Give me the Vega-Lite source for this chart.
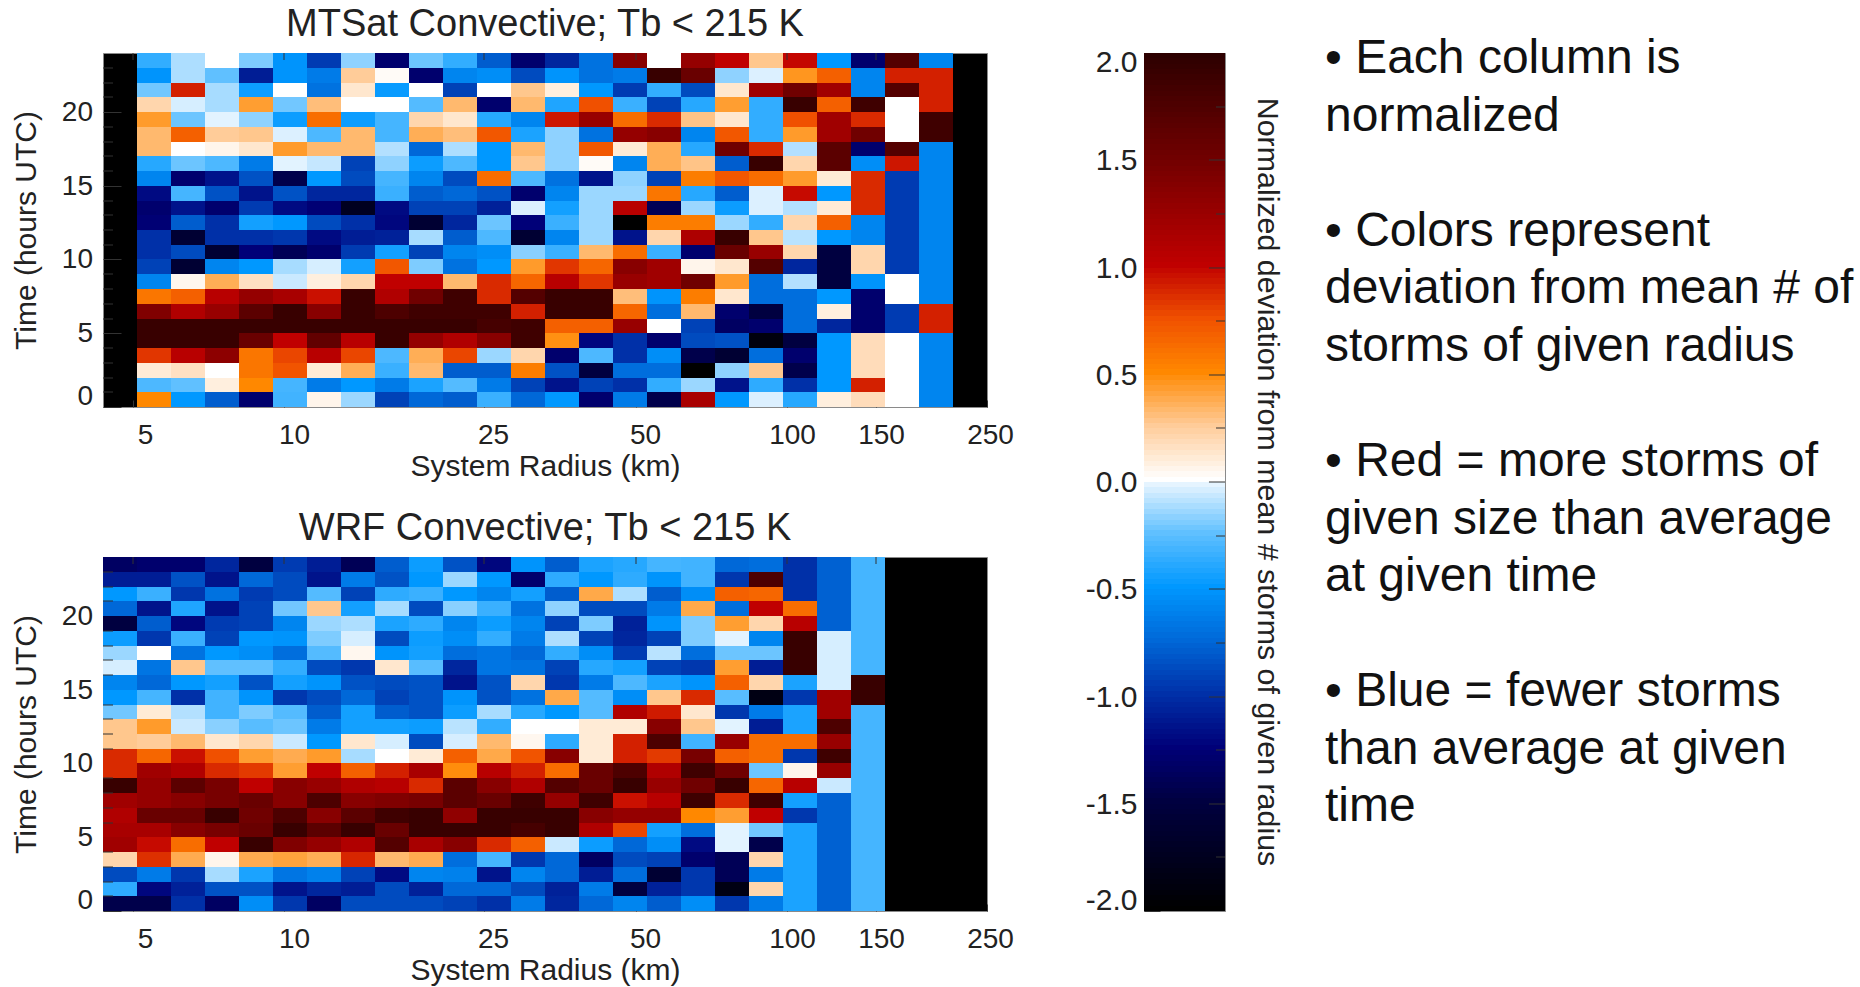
{"$schema":"https://vega.github.io/schema/vega-lite/v6.json","padding":{"left":11,"top":5,"right":0,"bottom":0},"background":"white","config":{"font":"Liberation Sans","view":{"fill":"black","stroke":"#8a8a8a","strokeWidth":1},"axis":{"labelFont":"Liberation Sans","titleFont":"Liberation Sans","labelColor":"#222","titleColor":"#222","titleFontWeight":"normal","domain":false,"grid":false,"tickColor":"#333","zindex":1,"labelOverlap":false},"title":{"font":"Liberation Sans","fontWeight":"normal","fontSize":38,"color":"#222","offset":8.5}},
"datasets":{
"edges":[{"c":0,"r0":4.355,"r1":5.089},{"c":1,"r0":5.089,"r1":5.947},{"c":2,"r0":5.947,"r1":6.949},{"c":3,"r0":6.949,"r1":8.121},{"c":4,"r0":8.121,"r1":9.49},{"c":5,"r0":9.49,"r1":11.089},{"c":6,"r0":11.089,"r1":12.958},{"c":7,"r0":12.958,"r1":15.142},{"c":8,"r0":15.142,"r1":17.695},{"c":9,"r0":17.695,"r1":20.678},{"c":10,"r0":20.678,"r1":24.163},{"c":11,"r0":24.163,"r1":28.236},{"c":12,"r0":28.236,"r1":32.995},{"c":13,"r0":32.995,"r1":38.557},{"c":14,"r0":38.557,"r1":45.056},{"c":15,"r0":45.056,"r1":52.651},{"c":16,"r0":52.651,"r1":61.526},{"c":17,"r0":61.526,"r1":71.897},{"c":18,"r0":71.897,"r1":84.016},{"c":19,"r0":84.016,"r1":98.178},{"c":20,"r0":98.178,"r1":114.73},{"c":21,"r0":114.73,"r1":134.07},{"c":22,"r0":134.07,"r1":156.66},{"c":23,"r0":156.66,"r1":183.07},{"c":24,"r0":183.07,"r1":213.93},{"c":25,"r0":213.93,"r1":250}],
"hours":[{"t":0,"t1":1},{"t":1,"t1":2},{"t":2,"t1":3},{"t":3,"t1":4},{"t":4,"t1":5},{"t":5,"t1":6},{"t":6,"t1":7},{"t":7,"t1":8},{"t":8,"t1":9},{"t":9,"t1":10},{"t":10,"t1":11},{"t":11,"t1":12},{"t":12,"t1":13},{"t":13,"t1":14},{"t":14,"t1":15},{"t":15,"t1":16},{"t":16,"t1":17},{"t":17,"t1":18},{"t":18,"t1":19},{"t":19,"t1":20},{"t":20,"t1":21},{"t":21,"t1":22},{"t":22,"t1":23},{"t":23,"t1":24}],
"xt":[{"r":5,"a":23.52,"b":24},{"r":10,"a":23.52,"b":24},{"r":25,"a":23.52,"b":24},{"r":50,"a":23.52,"b":24},{"r":100,"a":23.52,"b":24},{"r":150,"a":23.52,"b":24}],
"yt":[{"t":1,"a":4.355,"b":4.56},{"t":2,"a":4.355,"b":4.56},{"t":3,"a":4.355,"b":4.56},{"t":4,"a":4.355,"b":4.56},{"t":6,"a":4.355,"b":4.56},{"t":7,"a":4.355,"b":4.56},{"t":8,"a":4.355,"b":4.56},{"t":9,"a":4.355,"b":4.56},{"t":11,"a":4.355,"b":4.56},{"t":12,"a":4.355,"b":4.56},{"t":13,"a":4.355,"b":4.56},{"t":14,"a":4.355,"b":4.56},{"t":16,"a":4.355,"b":4.56},{"t":17,"a":4.355,"b":4.56},{"t":18,"a":4.355,"b":4.56},{"t":19,"a":4.355,"b":4.56},{"t":21,"a":4.355,"b":4.56},{"t":22,"a":4.355,"b":4.56},{"t":23,"a":4.355,"b":4.56}],
"bt":[{"v":-1.75,"a":0.889,"b":1},{"v":-1.5,"a":0.802,"b":1},{"v":-1.25,"a":0.889,"b":1},{"v":-1,"a":0.802,"b":1},{"v":-0.75,"a":0.889,"b":1},{"v":-0.5,"a":0.802,"b":1},{"v":-0.25,"a":0.889,"b":1},{"v":0,"a":0.802,"b":1},{"v":0.25,"a":0.889,"b":1},{"v":0.5,"a":0.802,"b":1},{"v":0.75,"a":0.889,"b":1},{"v":1,"a":0.802,"b":1},{"v":1.25,"a":0.889,"b":1},{"v":1.5,"a":0.802,"b":1},{"v":1.75,"a":0.889,"b":1}],
"bl":[{"p":1.52,"v":0,"l":"Normalized deviation from mean # storms of given radius"}],
"bar":[{"v":-2,"w":-1.975},{"v":-1.975,"w":-1.95},{"v":-1.95,"w":-1.925},{"v":-1.925,"w":-1.9},{"v":-1.9,"w":-1.875},{"v":-1.875,"w":-1.85},{"v":-1.85,"w":-1.825},{"v":-1.825,"w":-1.8},{"v":-1.8,"w":-1.775},{"v":-1.775,"w":-1.75},{"v":-1.75,"w":-1.725},{"v":-1.725,"w":-1.7},{"v":-1.7,"w":-1.675},{"v":-1.675,"w":-1.65},{"v":-1.65,"w":-1.625},{"v":-1.625,"w":-1.6},{"v":-1.6,"w":-1.575},{"v":-1.575,"w":-1.55},{"v":-1.55,"w":-1.525},{"v":-1.525,"w":-1.5},{"v":-1.5,"w":-1.475},{"v":-1.475,"w":-1.45},{"v":-1.45,"w":-1.425},{"v":-1.425,"w":-1.4},{"v":-1.4,"w":-1.375},{"v":-1.375,"w":-1.35},{"v":-1.35,"w":-1.325},{"v":-1.325,"w":-1.3},{"v":-1.3,"w":-1.275},{"v":-1.275,"w":-1.25},{"v":-1.25,"w":-1.225},{"v":-1.225,"w":-1.2},{"v":-1.2,"w":-1.175},{"v":-1.175,"w":-1.15},{"v":-1.15,"w":-1.125},{"v":-1.125,"w":-1.1},{"v":-1.1,"w":-1.075},{"v":-1.075,"w":-1.05},{"v":-1.05,"w":-1.025},{"v":-1.025,"w":-1},{"v":-1,"w":-0.975},{"v":-0.975,"w":-0.95},{"v":-0.95,"w":-0.925},{"v":-0.925,"w":-0.9},{"v":-0.9,"w":-0.875},{"v":-0.875,"w":-0.85},{"v":-0.85,"w":-0.825},{"v":-0.825,"w":-0.8},{"v":-0.8,"w":-0.775},{"v":-0.775,"w":-0.75},{"v":-0.75,"w":-0.725},{"v":-0.725,"w":-0.7},{"v":-0.7,"w":-0.675},{"v":-0.675,"w":-0.65},{"v":-0.65,"w":-0.625},{"v":-0.625,"w":-0.6},{"v":-0.6,"w":-0.575},{"v":-0.575,"w":-0.55},{"v":-0.55,"w":-0.525},{"v":-0.525,"w":-0.5},{"v":-0.5,"w":-0.475},{"v":-0.475,"w":-0.45},{"v":-0.45,"w":-0.425},{"v":-0.425,"w":-0.4},{"v":-0.4,"w":-0.375},{"v":-0.375,"w":-0.35},{"v":-0.35,"w":-0.325},{"v":-0.325,"w":-0.3},{"v":-0.3,"w":-0.275},{"v":-0.275,"w":-0.25},{"v":-0.25,"w":-0.225},{"v":-0.225,"w":-0.2},{"v":-0.2,"w":-0.175},{"v":-0.175,"w":-0.15},{"v":-0.15,"w":-0.125},{"v":-0.125,"w":-0.1},{"v":-0.1,"w":-0.075},{"v":-0.075,"w":-0.05},{"v":-0.05,"w":-0.025},{"v":-0.025,"w":0},{"v":0,"w":0.025},{"v":0.025,"w":0.05},{"v":0.05,"w":0.075},{"v":0.075,"w":0.1},{"v":0.1,"w":0.125},{"v":0.125,"w":0.15},{"v":0.15,"w":0.175},{"v":0.175,"w":0.2},{"v":0.2,"w":0.225},{"v":0.225,"w":0.25},{"v":0.25,"w":0.275},{"v":0.275,"w":0.3},{"v":0.3,"w":0.325},{"v":0.325,"w":0.35},{"v":0.35,"w":0.375},{"v":0.375,"w":0.4},{"v":0.4,"w":0.425},{"v":0.425,"w":0.45},{"v":0.45,"w":0.475},{"v":0.475,"w":0.5},{"v":0.5,"w":0.525},{"v":0.525,"w":0.55},{"v":0.55,"w":0.575},{"v":0.575,"w":0.6},{"v":0.6,"w":0.625},{"v":0.625,"w":0.65},{"v":0.65,"w":0.675},{"v":0.675,"w":0.7},{"v":0.7,"w":0.725},{"v":0.725,"w":0.75},{"v":0.75,"w":0.775},{"v":0.775,"w":0.8},{"v":0.8,"w":0.825},{"v":0.825,"w":0.85},{"v":0.85,"w":0.875},{"v":0.875,"w":0.9},{"v":0.9,"w":0.925},{"v":0.925,"w":0.95},{"v":0.95,"w":0.975},{"v":0.975,"w":1},{"v":1,"w":1.025},{"v":1.025,"w":1.05},{"v":1.05,"w":1.075},{"v":1.075,"w":1.1},{"v":1.1,"w":1.125},{"v":1.125,"w":1.15},{"v":1.15,"w":1.175},{"v":1.175,"w":1.2},{"v":1.2,"w":1.225},{"v":1.225,"w":1.25},{"v":1.25,"w":1.275},{"v":1.275,"w":1.3},{"v":1.3,"w":1.325},{"v":1.325,"w":1.35},{"v":1.35,"w":1.375},{"v":1.375,"w":1.4},{"v":1.4,"w":1.425},{"v":1.425,"w":1.45},{"v":1.45,"w":1.475},{"v":1.475,"w":1.5},{"v":1.5,"w":1.525},{"v":1.525,"w":1.55},{"v":1.55,"w":1.575},{"v":1.575,"w":1.6},{"v":1.6,"w":1.625},{"v":1.625,"w":1.65},{"v":1.65,"w":1.675},{"v":1.675,"w":1.7},{"v":1.7,"w":1.725},{"v":1.725,"w":1.75},{"v":1.75,"w":1.775},{"v":1.775,"w":1.8},{"v":1.8,"w":1.825},{"v":1.825,"w":1.85},{"v":1.85,"w":1.875},{"v":1.875,"w":1.9},{"v":1.9,"w":1.925},{"v":1.925,"w":1.95},{"v":1.95,"w":1.975},{"v":1.975,"w":2}],
"notes":[{"s":0,"l":"• Each column is"},{"s":1,"l":"normalized"},{"s":3,"l":"• Colors represent"},{"s":4,"l":"deviation from mean # of"},{"s":5,"l":"storms of given radius"},{"s":7,"l":"• Red = more storms of"},{"s":8,"l":"given size than average"},{"s":9,"l":"at given time"},{"s":11,"l":"• Blue = fewer storms"},{"s":12,"l":"than average at given"},{"s":13,"l":"time"}],
"M":[
{"t":23,"c":1,"v":-0.37},{"t":23,"c":2,"v":-0.12},{"t":23,"c":3,"v":0},{"t":23,"c":4,"v":-0.2},{"t":23,"c":5,"v":-0.52},{"t":23,"c":6,"v":-0.95},{"t":23,"c":7,"v":-0.17},{"t":23,"c":8,"v":-1.3},{"t":23,"c":9,"v":-0.23},{"t":23,"c":10,"v":-0.37},{"t":23,"c":11,"v":-0.8},{"t":23,"c":12,"v":-1.3},{"t":23,"c":13,"v":-1.05},{"t":23,"c":14,"v":-0.7},{"t":23,"c":15,"v":1.35},{"t":23,"c":16,"v":0},{"t":23,"c":17,"v":1.27},{"t":23,"c":18,"v":1},{"t":23,"c":19,"v":0.27},{"t":23,"c":20,"v":0.98},{"t":23,"c":21,"v":-0.5},{"t":23,"c":22,"v":-1.3},{"t":23,"c":23,"v":1.7},{"t":23,"c":24,"v":-0.6},
{"t":22,"c":1,"v":-0.52},{"t":22,"c":2,"v":-0.12},{"t":22,"c":3,"v":-0.25},{"t":22,"c":4,"v":-1.1},{"t":22,"c":5,"v":-0.52},{"t":22,"c":6,"v":-0.65},{"t":22,"c":7,"v":0.25},{"t":22,"c":8,"v":0.02},{"t":22,"c":9,"v":-1.3},{"t":22,"c":10,"v":-0.6},{"t":22,"c":11,"v":-0.55},{"t":22,"c":12,"v":-0.88},{"t":22,"c":13,"v":-0.52},{"t":22,"c":14,"v":-0.7},{"t":22,"c":15,"v":-0.65},{"t":22,"c":16,"v":1.9},{"t":22,"c":17,"v":1.55},{"t":22,"c":18,"v":-0.17},{"t":22,"c":19,"v":-0.04},{"t":22,"c":20,"v":0.45},{"t":22,"c":21,"v":0.68},{"t":22,"c":22,"v":-0.6},{"t":22,"c":23,"v":0.9},{"t":22,"c":24,"v":0.9},
{"t":21,"c":1,"v":-0.22},{"t":21,"c":2,"v":0.9},{"t":21,"c":3,"v":-0.13},{"t":21,"c":4,"v":-0.47},{"t":21,"c":5,"v":0},{"t":21,"c":6,"v":-0.7},{"t":21,"c":7,"v":0.12},{"t":21,"c":8,"v":-0.48},{"t":21,"c":9,"v":0},{"t":21,"c":10,"v":-0.92},{"t":21,"c":11,"v":0},{"t":21,"c":12,"v":0.27},{"t":21,"c":13,"v":0.08},{"t":21,"c":14,"v":-0.5},{"t":21,"c":15,"v":-0.95},{"t":21,"c":16,"v":-0.37},{"t":21,"c":17,"v":-0.88},{"t":21,"c":18,"v":0.12},{"t":21,"c":19,"v":1.2},{"t":21,"c":20,"v":1.5},{"t":21,"c":21,"v":1.2},{"t":21,"c":22,"v":-0.6},{"t":21,"c":23,"v":1.7},{"t":21,"c":24,"v":0.9},
{"t":20,"c":1,"v":0.2},{"t":20,"c":2,"v":-0.05},{"t":20,"c":3,"v":-0.13},{"t":20,"c":4,"v":0.42},{"t":20,"c":5,"v":-0.22},{"t":20,"c":6,"v":0.3},{"t":20,"c":7,"v":0},{"t":20,"c":8,"v":0},{"t":20,"c":9,"v":-0.28},{"t":20,"c":10,"v":0.32},{"t":20,"c":11,"v":-1.3},{"t":20,"c":12,"v":0.32},{"t":20,"c":13,"v":-0.42},{"t":20,"c":14,"v":0.75},{"t":20,"c":15,"v":-0.35},{"t":20,"c":16,"v":-0.92},{"t":20,"c":17,"v":-0.4},{"t":20,"c":18,"v":0.42},{"t":20,"c":19,"v":-0.37},{"t":20,"c":20,"v":1.9},{"t":20,"c":21,"v":0.68},{"t":20,"c":22,"v":1.85},{"t":20,"c":23,"v":0},{"t":20,"c":24,"v":0.9},
{"t":19,"c":1,"v":0.43},{"t":19,"c":2,"v":-0.23},{"t":19,"c":3,"v":-0.03},{"t":19,"c":4,"v":-0.17},{"t":19,"c":5,"v":-0.47},{"t":19,"c":6,"v":0.62},{"t":19,"c":7,"v":-0.47},{"t":19,"c":8,"v":-0.32},{"t":19,"c":9,"v":0.2},{"t":19,"c":10,"v":0.12},{"t":19,"c":11,"v":-0.4},{"t":19,"c":12,"v":-0.6},{"t":19,"c":13,"v":0.93},{"t":19,"c":14,"v":1.25},{"t":19,"c":15,"v":0.62},{"t":19,"c":16,"v":0.87},{"t":19,"c":17,"v":0.28},{"t":19,"c":18,"v":0.12},{"t":19,"c":19,"v":-0.37},{"t":19,"c":20,"v":0.75},{"t":19,"c":21,"v":1.2},{"t":19,"c":22,"v":0.87},{"t":19,"c":23,"v":0},{"t":19,"c":24,"v":1.85},
{"t":18,"c":1,"v":0.32},{"t":18,"c":2,"v":0.68},{"t":18,"c":3,"v":0.25},{"t":18,"c":4,"v":0.27},{"t":18,"c":5,"v":-0.04},{"t":18,"c":6,"v":-0.3},{"t":18,"c":7,"v":0.32},{"t":18,"c":8,"v":-0.32},{"t":18,"c":9,"v":0.36},{"t":18,"c":10,"v":0.3},{"t":18,"c":11,"v":0.72},{"t":18,"c":12,"v":-0.43},{"t":18,"c":13,"v":-0.17},{"t":18,"c":14,"v":-0.7},{"t":18,"c":15,"v":1.27},{"t":18,"c":16,"v":1.35},{"t":18,"c":17,"v":-0.6},{"t":18,"c":18,"v":0.72},{"t":18,"c":19,"v":-0.37},{"t":18,"c":20,"v":0.43},{"t":18,"c":21,"v":1.2},{"t":18,"c":22,"v":1.5},{"t":18,"c":23,"v":0},{"t":18,"c":24,"v":1.85},
{"t":17,"c":1,"v":0.32},{"t":17,"c":2,"v":0},{"t":17,"c":3,"v":0.05},{"t":17,"c":4,"v":0.12},{"t":17,"c":5,"v":0.43},{"t":17,"c":6,"v":0.32},{"t":17,"c":7,"v":0.32},{"t":17,"c":8,"v":-0.11},{"t":17,"c":9,"v":-0.75},{"t":17,"c":10,"v":-0.12},{"t":17,"c":11,"v":-0.5},{"t":17,"c":12,"v":0.32},{"t":17,"c":13,"v":-0.17},{"t":17,"c":14,"v":0.72},{"t":17,"c":15,"v":0.1},{"t":17,"c":16,"v":0.36},{"t":17,"c":17,"v":-0.4},{"t":17,"c":18,"v":1.5},{"t":17,"c":19,"v":0.87},{"t":17,"c":20,"v":-0.11},{"t":17,"c":21,"v":1.65},{"t":17,"c":22,"v":-1.3},{"t":17,"c":23,"v":1.7},{"t":17,"c":24,"v":-0.6},
{"t":16,"c":1,"v":-0.4},{"t":16,"c":2,"v":-0.23},{"t":16,"c":3,"v":-0.3},{"t":16,"c":4,"v":-0.65},{"t":16,"c":5,"v":-0.03},{"t":16,"c":6,"v":-0.08},{"t":16,"c":7,"v":-0.92},{"t":16,"c":8,"v":-0.17},{"t":16,"c":9,"v":-0.47},{"t":16,"c":10,"v":-0.3},{"t":16,"c":11,"v":-0.5},{"t":16,"c":12,"v":0.27},{"t":16,"c":13,"v":-0.17},{"t":16,"c":14,"v":0.02},{"t":16,"c":15,"v":-0.6},{"t":16,"c":16,"v":0.36},{"t":16,"c":17,"v":0.28},{"t":16,"c":18,"v":-0.8},{"t":16,"c":19,"v":1.9},{"t":16,"c":20,"v":0.2},{"t":16,"c":21,"v":1.65},{"t":16,"c":22,"v":-0.55},{"t":16,"c":23,"v":0.93},{"t":16,"c":24,"v":-0.6},
{"t":15,"c":1,"v":-0.6},{"t":15,"c":2,"v":-1.3},{"t":15,"c":3,"v":-1.15},{"t":15,"c":4,"v":-0.85},{"t":15,"c":5,"v":-1.45},{"t":15,"c":6,"v":-0.5},{"t":15,"c":7,"v":-0.88},{"t":15,"c":8,"v":-0.32},{"t":15,"c":9,"v":-0.6},{"t":15,"c":10,"v":-0.88},{"t":15,"c":11,"v":0.62},{"t":15,"c":12,"v":-0.3},{"t":15,"c":13,"v":-0.7},{"t":15,"c":14,"v":-1.15},{"t":15,"c":15,"v":-0.17},{"t":15,"c":16,"v":-0.92},{"t":15,"c":17,"v":0.55},{"t":15,"c":18,"v":0.72},{"t":15,"c":19,"v":0.62},{"t":15,"c":20,"v":0.43},{"t":15,"c":21,"v":0.1},{"t":15,"c":22,"v":0.87},{"t":15,"c":23,"v":-0.95},{"t":15,"c":24,"v":-0.6},
{"t":14,"c":1,"v":-1.2},{"t":14,"c":2,"v":-0.32},{"t":14,"c":3,"v":-0.85},{"t":14,"c":4,"v":-1.15},{"t":14,"c":5,"v":-0.85},{"t":14,"c":6,"v":-1.05},{"t":14,"c":7,"v":-1.05},{"t":14,"c":8,"v":-0.35},{"t":14,"c":9,"v":-0.8},{"t":14,"c":10,"v":-0.75},{"t":14,"c":11,"v":-0.85},{"t":14,"c":12,"v":-1.3},{"t":14,"c":13,"v":-0.6},{"t":14,"c":14,"v":-0.15},{"t":14,"c":15,"v":-0.15},{"t":14,"c":16,"v":0.58},{"t":14,"c":17,"v":-0.4},{"t":14,"c":18,"v":-0.8},{"t":14,"c":19,"v":-0.04},{"t":14,"c":20,"v":0.97},{"t":14,"c":21,"v":-0.5},{"t":14,"c":22,"v":0.87},{"t":14,"c":23,"v":-0.95},{"t":14,"c":24,"v":-0.6},
{"t":13,"c":1,"v":-1.3},{"t":13,"c":2,"v":-1.15},{"t":13,"c":3,"v":-1.3},{"t":13,"c":4,"v":-0.95},{"t":13,"c":5,"v":-1.2},{"t":13,"c":6,"v":-1.27},{"t":13,"c":7,"v":-1.75},{"t":13,"c":8,"v":-1.2},{"t":13,"c":9,"v":-0.92},{"t":13,"c":10,"v":-0.92},{"t":13,"c":11,"v":-1.08},{"t":13,"c":12,"v":-0.04},{"t":13,"c":13,"v":-0.45},{"t":13,"c":14,"v":-0.15},{"t":13,"c":15,"v":1.05},{"t":13,"c":16,"v":-1.4},{"t":13,"c":17,"v":-0.15},{"t":13,"c":18,"v":-0.47},{"t":13,"c":19,"v":-0.04},{"t":13,"c":20,"v":-0.11},{"t":13,"c":21,"v":0.1},{"t":13,"c":22,"v":0.87},{"t":13,"c":23,"v":-0.95},{"t":13,"c":24,"v":-0.6},
{"t":12,"c":1,"v":-1.27},{"t":12,"c":2,"v":-0.8},{"t":12,"c":3,"v":-1},{"t":12,"c":4,"v":-0.45},{"t":12,"c":5,"v":-0.5},{"t":12,"c":6,"v":-0.88},{"t":12,"c":7,"v":-1},{"t":12,"c":8,"v":-1.22},{"t":12,"c":9,"v":-1.6},{"t":12,"c":10,"v":-1.05},{"t":12,"c":11,"v":-0.23},{"t":12,"c":12,"v":-1.25},{"t":12,"c":13,"v":-0.35},{"t":12,"c":14,"v":-0.15},{"t":12,"c":15,"v":-2},{"t":12,"c":16,"v":0.55},{"t":12,"c":17,"v":0.55},{"t":12,"c":18,"v":-0.15},{"t":12,"c":19,"v":-0.37},{"t":12,"c":20,"v":0.2},{"t":12,"c":21,"v":0.68},{"t":12,"c":22,"v":-0.6},{"t":12,"c":23,"v":-0.95},{"t":12,"c":24,"v":-0.6},
{"t":11,"c":1,"v":-1},{"t":11,"c":2,"v":-1.6},{"t":11,"c":3,"v":-1},{"t":11,"c":4,"v":-1},{"t":11,"c":5,"v":-0.97},{"t":11,"c":6,"v":-1.2},{"t":11,"c":7,"v":-1.1},{"t":11,"c":8,"v":-1.08},{"t":11,"c":9,"v":-0.13},{"t":11,"c":10,"v":-0.8},{"t":11,"c":11,"v":-0.3},{"t":11,"c":12,"v":-1.6},{"t":11,"c":13,"v":-0.6},{"t":11,"c":14,"v":-0.15},{"t":11,"c":15,"v":-1.15},{"t":11,"c":16,"v":0.2},{"t":11,"c":17,"v":1.12},{"t":11,"c":18,"v":1.9},{"t":11,"c":19,"v":0.27},{"t":11,"c":20,"v":-0.1},{"t":11,"c":21,"v":-0.5},{"t":11,"c":22,"v":-0.6},{"t":11,"c":23,"v":-0.95},{"t":11,"c":24,"v":-0.6},
{"t":10,"c":1,"v":-1},{"t":10,"c":2,"v":-0.88},{"t":10,"c":3,"v":-1.6},{"t":10,"c":4,"v":-1.25},{"t":10,"c":5,"v":-1.4},{"t":10,"c":6,"v":-1.3},{"t":10,"c":7,"v":-0.95},{"t":10,"c":8,"v":-0.45},{"t":10,"c":9,"v":-0.92},{"t":10,"c":10,"v":-0.6},{"t":10,"c":11,"v":-0.55},{"t":10,"c":12,"v":-0.18},{"t":10,"c":13,"v":-0.35},{"t":10,"c":14,"v":0.32},{"t":10,"c":15,"v":0.62},{"t":10,"c":16,"v":-0.35},{"t":10,"c":17,"v":-1.3},{"t":10,"c":18,"v":1.55},{"t":10,"c":19,"v":1.25},{"t":10,"c":20,"v":0.2},{"t":10,"c":21,"v":-1.5},{"t":10,"c":22,"v":0.2},{"t":10,"c":23,"v":-0.95},{"t":10,"c":24,"v":-0.6},
{"t":9,"c":1,"v":-0.92},{"t":9,"c":2,"v":-1.6},{"t":9,"c":3,"v":-0.6},{"t":9,"c":4,"v":-0.5},{"t":9,"c":5,"v":-0.13},{"t":9,"c":6,"v":-0.05},{"t":9,"c":7,"v":-0.45},{"t":9,"c":8,"v":0.72},{"t":9,"c":9,"v":-0.2},{"t":9,"c":10,"v":-0.7},{"t":9,"c":11,"v":-0.5},{"t":9,"c":12,"v":0.43},{"t":9,"c":13,"v":0.83},{"t":9,"c":14,"v":0.65},{"t":9,"c":15,"v":1.35},{"t":9,"c":16,"v":1.2},{"t":9,"c":17,"v":0.05},{"t":9,"c":18,"v":0.12},{"t":9,"c":19,"v":1.7},{"t":9,"c":20,"v":-1.05},{"t":9,"c":21,"v":-1.5},{"t":9,"c":22,"v":0.2},{"t":9,"c":23,"v":-0.95},{"t":9,"c":24,"v":-0.6},
{"t":8,"c":1,"v":-0.6},{"t":8,"c":2,"v":0.04},{"t":8,"c":3,"v":0.36},{"t":8,"c":4,"v":0.15},{"t":8,"c":5,"v":-0.07},{"t":8,"c":6,"v":0.08},{"t":8,"c":7,"v":0.2},{"t":8,"c":8,"v":1},{"t":8,"c":9,"v":1},{"t":8,"c":10,"v":0.32},{"t":8,"c":11,"v":0.87},{"t":8,"c":12,"v":0.65},{"t":8,"c":13,"v":1.05},{"t":8,"c":14,"v":0.83},{"t":8,"c":15,"v":1.25},{"t":8,"c":16,"v":1.2},{"t":8,"c":17,"v":1.5},{"t":8,"c":18,"v":0.43},{"t":8,"c":19,"v":-0.72},{"t":8,"c":20,"v":-0.11},{"t":8,"c":21,"v":-1.5},{"t":8,"c":22,"v":-0.52},{"t":8,"c":23,"v":0},{"t":8,"c":24,"v":-0.6},
{"t":7,"c":1,"v":0.58},{"t":7,"c":2,"v":0.68},{"t":7,"c":3,"v":1.05},{"t":7,"c":4,"v":1.27},{"t":7,"c":5,"v":1.15},{"t":7,"c":6,"v":0.95},{"t":7,"c":7,"v":1.9},{"t":7,"c":8,"v":1.1},{"t":7,"c":9,"v":1.5},{"t":7,"c":10,"v":1.85},{"t":7,"c":11,"v":0.87},{"t":7,"c":12,"v":1.7},{"t":7,"c":13,"v":1.9},{"t":7,"c":14,"v":1.9},{"t":7,"c":15,"v":0.3},{"t":7,"c":16,"v":-0.52},{"t":7,"c":17,"v":0.55},{"t":7,"c":18,"v":0.12},{"t":7,"c":19,"v":-0.72},{"t":7,"c":20,"v":-0.72},{"t":7,"c":21,"v":-0.5},{"t":7,"c":22,"v":-1.3},{"t":7,"c":23,"v":0},{"t":7,"c":24,"v":-0.6},
{"t":6,"c":1,"v":1.4},{"t":6,"c":2,"v":1.1},{"t":6,"c":3,"v":1.25},{"t":6,"c":4,"v":1.65},{"t":6,"c":5,"v":1.9},{"t":6,"c":6,"v":1.35},{"t":6,"c":7,"v":1.9},{"t":6,"c":8,"v":1.75},{"t":6,"c":9,"v":1.85},{"t":6,"c":10,"v":1.85},{"t":6,"c":11,"v":1.85},{"t":6,"c":12,"v":0.9},{"t":6,"c":13,"v":1.9},{"t":6,"c":14,"v":1.9},{"t":6,"c":15,"v":0.65},{"t":6,"c":16,"v":-0.72},{"t":6,"c":17,"v":0.32},{"t":6,"c":18,"v":-1.3},{"t":6,"c":19,"v":-1.5},{"t":6,"c":20,"v":-0.72},{"t":6,"c":21,"v":0.08},{"t":6,"c":22,"v":-1.3},{"t":6,"c":23,"v":-0.95},{"t":6,"c":24,"v":0.9},
{"t":5,"c":1,"v":1.9},{"t":5,"c":2,"v":1.9},{"t":5,"c":3,"v":1.9},{"t":5,"c":4,"v":1.9},{"t":5,"c":5,"v":1.9},{"t":5,"c":6,"v":1.9},{"t":5,"c":7,"v":1.9},{"t":5,"c":8,"v":1.9},{"t":5,"c":9,"v":1.9},{"t":5,"c":10,"v":1.9},{"t":5,"c":11,"v":1.8},{"t":5,"c":12,"v":1.85},{"t":5,"c":13,"v":0.68},{"t":5,"c":14,"v":0.68},{"t":5,"c":15,"v":1.25},{"t":5,"c":16,"v":0},{"t":5,"c":17,"v":-0.92},{"t":5,"c":18,"v":-1.35},{"t":5,"c":19,"v":-1.3},{"t":5,"c":20,"v":-0.72},{"t":5,"c":21,"v":-1.05},{"t":5,"c":22,"v":-1.3},{"t":5,"c":23,"v":-0.95},{"t":5,"c":24,"v":0.9},
{"t":4,"c":1,"v":1.9},{"t":4,"c":2,"v":1.9},{"t":4,"c":3,"v":1.9},{"t":4,"c":4,"v":1.55},{"t":4,"c":5,"v":1},{"t":4,"c":6,"v":1.6},{"t":4,"c":7,"v":1.05},{"t":4,"c":8,"v":1.9},{"t":4,"c":9,"v":1.27},{"t":4,"c":10,"v":1.1},{"t":4,"c":11,"v":1.35},{"t":4,"c":12,"v":1.85},{"t":4,"c":13,"v":0.47},{"t":4,"c":14,"v":-1.22},{"t":4,"c":15,"v":-1},{"t":4,"c":16,"v":-1.3},{"t":4,"c":17,"v":-0.88},{"t":4,"c":18,"v":-0.85},{"t":4,"c":19,"v":-1.9},{"t":4,"c":20,"v":-1.5},{"t":4,"c":21,"v":-0.5},{"t":4,"c":22,"v":0.17},{"t":4,"c":23,"v":0},{"t":4,"c":24,"v":-0.6},
{"t":3,"c":1,"v":0.83},{"t":3,"c":2,"v":1.05},{"t":3,"c":3,"v":1.32},{"t":3,"c":4,"v":0.58},{"t":3,"c":5,"v":0.78},{"t":3,"c":6,"v":1.05},{"t":3,"c":7,"v":0.78},{"t":3,"c":8,"v":-0.3},{"t":3,"c":9,"v":0.36},{"t":3,"c":10,"v":0.78},{"t":3,"c":11,"v":-0.15},{"t":3,"c":12,"v":0.2},{"t":3,"c":13,"v":-1.3},{"t":3,"c":14,"v":-0.3},{"t":3,"c":15,"v":-1},{"t":3,"c":16,"v":-0.55},{"t":3,"c":17,"v":-1.45},{"t":3,"c":18,"v":-1.6},{"t":3,"c":19,"v":-0.72},{"t":3,"c":20,"v":-1.3},{"t":3,"c":21,"v":-0.5},{"t":3,"c":22,"v":0.17},{"t":3,"c":23,"v":0},{"t":3,"c":24,"v":-0.6},
{"t":2,"c":1,"v":0.1},{"t":2,"c":2,"v":0.15},{"t":2,"c":3,"v":0},{"t":2,"c":4,"v":0.58},{"t":2,"c":5,"v":0.73},{"t":2,"c":6,"v":0.1},{"t":2,"c":7,"v":0.36},{"t":2,"c":8,"v":-0.35},{"t":2,"c":9,"v":0.32},{"t":2,"c":10,"v":-0.8},{"t":2,"c":11,"v":-0.8},{"t":2,"c":12,"v":0.55},{"t":2,"c":13,"v":-0.85},{"t":2,"c":14,"v":-1.5},{"t":2,"c":15,"v":-0.72},{"t":2,"c":16,"v":-0.72},{"t":2,"c":17,"v":-2},{"t":2,"c":18,"v":-0.17},{"t":2,"c":19,"v":0.27},{"t":2,"c":20,"v":-1.45},{"t":2,"c":21,"v":-0.5},{"t":2,"c":22,"v":0.17},{"t":2,"c":23,"v":0},{"t":2,"c":24,"v":-0.6},
{"t":1,"c":1,"v":-0.3},{"t":1,"c":2,"v":-0.25},{"t":1,"c":3,"v":0.08},{"t":1,"c":4,"v":0.5},{"t":1,"c":5,"v":-0.32},{"t":1,"c":6,"v":-0.65},{"t":1,"c":7,"v":-0.5},{"t":1,"c":8,"v":-0.65},{"t":1,"c":9,"v":-0.43},{"t":1,"c":10,"v":-0.28},{"t":1,"c":11,"v":-0.65},{"t":1,"c":12,"v":-0.92},{"t":1,"c":13,"v":-1.15},{"t":1,"c":14,"v":-0.92},{"t":1,"c":15,"v":-1},{"t":1,"c":16,"v":-0.37},{"t":1,"c":17,"v":-0.15},{"t":1,"c":18,"v":-1.15},{"t":1,"c":19,"v":-0.38},{"t":1,"c":20,"v":-1},{"t":1,"c":21,"v":-0.5},{"t":1,"c":22,"v":0.9},{"t":1,"c":23,"v":0},{"t":1,"c":24,"v":-0.6},
{"t":0,"c":1,"v":0.5},{"t":0,"c":2,"v":-0.5},{"t":0,"c":3,"v":-0.8},{"t":0,"c":4,"v":-1.3},{"t":0,"c":5,"v":-0.33},{"t":0,"c":6,"v":0.05},{"t":0,"c":7,"v":-0.15},{"t":0,"c":8,"v":-0.92},{"t":0,"c":9,"v":-0.75},{"t":0,"c":10,"v":-0.8},{"t":0,"c":11,"v":-0.35},{"t":0,"c":12,"v":-0.75},{"t":0,"c":13,"v":-0.5},{"t":0,"c":14,"v":-1.3},{"t":0,"c":15,"v":-0.65},{"t":0,"c":16,"v":-1.45},{"t":0,"c":17,"v":1.15},{"t":0,"c":18,"v":-0.5},{"t":0,"c":19,"v":-0.04},{"t":0,"c":20,"v":-0.4},{"t":0,"c":21,"v":0.08},{"t":0,"c":22,"v":0.17},{"t":0,"c":23,"v":0},{"t":0,"c":24,"v":-0.6}],
"W":[
{"t":23,"c":0,"v":-1.35},{"t":23,"c":1,"v":-1.3},{"t":23,"c":2,"v":-1.3},{"t":23,"c":3,"v":-1.05},{"t":23,"c":4,"v":-1.5},{"t":23,"c":5,"v":-0.95},{"t":23,"c":6,"v":-1.1},{"t":23,"c":7,"v":-1.4},{"t":23,"c":8,"v":-0.8},{"t":23,"c":9,"v":-0.47},{"t":23,"c":10,"v":-0.85},{"t":23,"c":11,"v":-1.22},{"t":23,"c":12,"v":-0.52},{"t":23,"c":13,"v":-0.8},{"t":23,"c":14,"v":-0.43},{"t":23,"c":15,"v":-0.4},{"t":23,"c":16,"v":-0.32},{"t":23,"c":17,"v":-0.33},{"t":23,"c":18,"v":-0.75},{"t":23,"c":19,"v":-0.72},{"t":23,"c":20,"v":-1},{"t":23,"c":21,"v":-0.78},{"t":23,"c":22,"v":-0.32},
{"t":22,"c":0,"v":-1.1},{"t":22,"c":1,"v":-1.1},{"t":22,"c":2,"v":-0.85},{"t":22,"c":3,"v":-1.15},{"t":22,"c":4,"v":-0.75},{"t":22,"c":5,"v":-0.88},{"t":22,"c":6,"v":-1.15},{"t":22,"c":7,"v":-0.65},{"t":22,"c":8,"v":-0.85},{"t":22,"c":9,"v":-0.5},{"t":22,"c":10,"v":-0.15},{"t":22,"c":11,"v":-0.5},{"t":22,"c":12,"v":-1.3},{"t":22,"c":13,"v":-0.38},{"t":22,"c":14,"v":-0.5},{"t":22,"c":15,"v":-0.38},{"t":22,"c":16,"v":-0.52},{"t":22,"c":17,"v":-0.33},{"t":22,"c":18,"v":-0.97},{"t":22,"c":19,"v":1.75},{"t":22,"c":20,"v":-1},{"t":22,"c":21,"v":-0.78},{"t":22,"c":22,"v":-0.32},
{"t":21,"c":0,"v":-0.5},{"t":21,"c":1,"v":-0.35},{"t":21,"c":2,"v":-0.97},{"t":21,"c":3,"v":-0.7},{"t":21,"c":4,"v":-0.95},{"t":21,"c":5,"v":-0.88},{"t":21,"c":6,"v":-0.28},{"t":21,"c":7,"v":-0.92},{"t":21,"c":8,"v":-0.38},{"t":21,"c":9,"v":-0.35},{"t":21,"c":10,"v":-0.5},{"t":21,"c":11,"v":-0.6},{"t":21,"c":12,"v":-0.45},{"t":21,"c":13,"v":-0.8},{"t":21,"c":14,"v":0.38},{"t":21,"c":15,"v":-0.12},{"t":21,"c":16,"v":-0.8},{"t":21,"c":17,"v":-0.55},{"t":21,"c":18,"v":0.68},{"t":21,"c":19,"v":0.65},{"t":21,"c":20,"v":-1},{"t":21,"c":21,"v":-0.78},{"t":21,"c":22,"v":-0.32},
{"t":20,"c":0,"v":-0.75},{"t":20,"c":1,"v":-1.15},{"t":20,"c":2,"v":-0.42},{"t":20,"c":3,"v":-1.15},{"t":20,"c":4,"v":-0.92},{"t":20,"c":5,"v":-0.22},{"t":20,"c":6,"v":0.27},{"t":20,"c":7,"v":-0.45},{"t":20,"c":8,"v":-0.13},{"t":20,"c":9,"v":-0.88},{"t":20,"c":10,"v":-0.18},{"t":20,"c":11,"v":-0.35},{"t":20,"c":12,"v":-0.7},{"t":20,"c":13,"v":-0.17},{"t":20,"c":14,"v":-0.88},{"t":20,"c":15,"v":-0.88},{"t":20,"c":16,"v":-0.65},{"t":20,"c":17,"v":0.38},{"t":20,"c":18,"v":-0.72},{"t":20,"c":19,"v":1},{"t":20,"c":20,"v":0.62},{"t":20,"c":21,"v":-0.78},{"t":20,"c":22,"v":-0.32},
{"t":19,"c":0,"v":-1.5},{"t":19,"c":1,"v":-0.8},{"t":19,"c":2,"v":-1.22},{"t":19,"c":3,"v":-0.95},{"t":19,"c":4,"v":-0.92},{"t":19,"c":5,"v":-0.6},{"t":19,"c":6,"v":-0.15},{"t":19,"c":7,"v":-0.12},{"t":19,"c":8,"v":-0.43},{"t":19,"c":9,"v":-0.38},{"t":19,"c":10,"v":-0.6},{"t":19,"c":11,"v":-0.47},{"t":19,"c":12,"v":-0.6},{"t":19,"c":13,"v":-0.92},{"t":19,"c":14,"v":-0.2},{"t":19,"c":15,"v":-1.08},{"t":19,"c":16,"v":-0.52},{"t":19,"c":17,"v":-0.2},{"t":19,"c":18,"v":0.42},{"t":19,"c":19,"v":0.2},{"t":19,"c":20,"v":1.05},{"t":19,"c":21,"v":-0.78},{"t":19,"c":22,"v":-0.32},
{"t":18,"c":0,"v":-0.47},{"t":18,"c":1,"v":-0.97},{"t":18,"c":2,"v":-0.35},{"t":18,"c":3,"v":-0.92},{"t":18,"c":4,"v":-0.5},{"t":18,"c":5,"v":-0.52},{"t":18,"c":6,"v":-0.2},{"t":18,"c":7,"v":-0.05},{"t":18,"c":8,"v":-0.88},{"t":18,"c":9,"v":-0.47},{"t":18,"c":10,"v":-0.55},{"t":18,"c":11,"v":-0.37},{"t":18,"c":12,"v":-0.65},{"t":18,"c":13,"v":-0.12},{"t":18,"c":14,"v":-0.92},{"t":18,"c":15,"v":-1.05},{"t":18,"c":16,"v":-0.92},{"t":18,"c":17,"v":-0.2},{"t":18,"c":18,"v":-0.03},{"t":18,"c":19,"v":-0.6},{"t":18,"c":20,"v":1.9},{"t":18,"c":21,"v":-0.05},{"t":18,"c":22,"v":-0.32},
{"t":17,"c":0,"v":-0.15},{"t":17,"c":1,"v":0},{"t":17,"c":2,"v":-0.7},{"t":17,"c":3,"v":-0.5},{"t":17,"c":4,"v":-0.55},{"t":17,"c":5,"v":-0.72},{"t":17,"c":6,"v":-0.28},{"t":17,"c":7,"v":0.04},{"t":17,"c":8,"v":-0.52},{"t":17,"c":9,"v":-0.45},{"t":17,"c":10,"v":-0.72},{"t":17,"c":11,"v":-0.68},{"t":17,"c":12,"v":-0.75},{"t":17,"c":13,"v":-0.37},{"t":17,"c":14,"v":-0.55},{"t":17,"c":15,"v":-0.95},{"t":17,"c":16,"v":-0.1},{"t":17,"c":17,"v":-0.72},{"t":17,"c":18,"v":-0.23},{"t":17,"c":19,"v":-0.23},{"t":17,"c":20,"v":1.9},{"t":17,"c":21,"v":-0.05},{"t":17,"c":22,"v":-0.32},
{"t":16,"c":0,"v":-0.05},{"t":16,"c":1,"v":-0.68},{"t":16,"c":2,"v":0.27},{"t":16,"c":3,"v":-0.25},{"t":16,"c":4,"v":-0.25},{"t":16,"c":5,"v":-0.37},{"t":16,"c":6,"v":-0.88},{"t":16,"c":7,"v":-0.97},{"t":16,"c":8,"v":0.12},{"t":16,"c":9,"v":-0.27},{"t":16,"c":10,"v":-1.05},{"t":16,"c":11,"v":-0.68},{"t":16,"c":12,"v":-0.7},{"t":16,"c":13,"v":-0.92},{"t":16,"c":14,"v":-0.4},{"t":16,"c":15,"v":-0.45},{"t":16,"c":16,"v":-0.92},{"t":16,"c":17,"v":-0.97},{"t":16,"c":18,"v":0.42},{"t":16,"c":19,"v":-1.1},{"t":16,"c":20,"v":1.9},{"t":16,"c":21,"v":-0.05},{"t":16,"c":22,"v":-0.32},
{"t":15,"c":0,"v":-0.6},{"t":15,"c":1,"v":-0.75},{"t":15,"c":2,"v":-0.5},{"t":15,"c":3,"v":-0.45},{"t":15,"c":4,"v":-0.85},{"t":15,"c":5,"v":-0.45},{"t":15,"c":6,"v":-0.52},{"t":15,"c":7,"v":-0.85},{"t":15,"c":8,"v":-0.88},{"t":15,"c":9,"v":-0.85},{"t":15,"c":10,"v":-1.15},{"t":15,"c":11,"v":-0.85},{"t":15,"c":12,"v":0.2},{"t":15,"c":13,"v":-0.97},{"t":15,"c":14,"v":-0.65},{"t":15,"c":15,"v":-0.3},{"t":15,"c":16,"v":-0.43},{"t":15,"c":17,"v":-0.52},{"t":15,"c":18,"v":0.68},{"t":15,"c":19,"v":0.2},{"t":15,"c":20,"v":-0.43},{"t":15,"c":21,"v":-0.05},{"t":15,"c":22,"v":1.9},
{"t":14,"c":0,"v":-0.5},{"t":14,"c":1,"v":-0.32},{"t":14,"c":2,"v":-1},{"t":14,"c":3,"v":-0.33},{"t":14,"c":4,"v":-0.52},{"t":14,"c":5,"v":-0.97},{"t":14,"c":6,"v":-0.88},{"t":14,"c":7,"v":-0.75},{"t":14,"c":8,"v":-0.92},{"t":14,"c":9,"v":-0.85},{"t":14,"c":10,"v":-0.52},{"t":14,"c":11,"v":-0.85},{"t":14,"c":12,"v":-0.7},{"t":14,"c":13,"v":0.38},{"t":14,"c":14,"v":-0.28},{"t":14,"c":15,"v":-0.55},{"t":14,"c":16,"v":0.27},{"t":14,"c":17,"v":0.87},{"t":14,"c":18,"v":-0.27},{"t":14,"c":19,"v":-1.85},{"t":14,"c":20,"v":-0.97},{"t":14,"c":21,"v":1.2},{"t":14,"c":22,"v":1.9},
{"t":13,"c":0,"v":-0.22},{"t":13,"c":1,"v":0.1},{"t":13,"c":2,"v":-0.11},{"t":13,"c":3,"v":-0.33},{"t":13,"c":4,"v":-0.2},{"t":13,"c":5,"v":-0.28},{"t":13,"c":6,"v":-0.8},{"t":13,"c":7,"v":-0.45},{"t":13,"c":8,"v":-0.8},{"t":13,"c":9,"v":-0.85},{"t":13,"c":10,"v":-0.47},{"t":13,"c":11,"v":-0.13},{"t":13,"c":12,"v":-0.4},{"t":13,"c":13,"v":-0.5},{"t":13,"c":14,"v":-0.28},{"t":13,"c":15,"v":1.1},{"t":13,"c":16,"v":0.92},{"t":13,"c":17,"v":0.12},{"t":13,"c":18,"v":-0.97},{"t":13,"c":19,"v":-0.65},{"t":13,"c":20,"v":-0.43},{"t":13,"c":21,"v":1.2},{"t":13,"c":22,"v":-0.32},
{"t":12,"c":0,"v":0.27},{"t":12,"c":1,"v":0.43},{"t":12,"c":2,"v":-0.07},{"t":12,"c":3,"v":-0.18},{"t":12,"c":4,"v":-0.27},{"t":12,"c":5,"v":-0.23},{"t":12,"c":6,"v":-0.65},{"t":12,"c":7,"v":-0.45},{"t":12,"c":8,"v":-0.45},{"t":12,"c":9,"v":-0.47},{"t":12,"c":10,"v":-0.1},{"t":12,"c":11,"v":-0.37},{"t":12,"c":12,"v":0},{"t":12,"c":13,"v":0},{"t":12,"c":14,"v":0.1},{"t":12,"c":15,"v":0.1},{"t":12,"c":16,"v":1.35},{"t":12,"c":17,"v":0.27},{"t":12,"c":18,"v":-0.03},{"t":12,"c":19,"v":-1.1},{"t":12,"c":20,"v":-0.43},{"t":12,"c":21,"v":1.75},{"t":12,"c":22,"v":-0.32},
{"t":11,"c":0,"v":0.27},{"t":11,"c":1,"v":0.25},{"t":11,"c":2,"v":0.32},{"t":11,"c":3,"v":0.12},{"t":11,"c":4,"v":0.2},{"t":11,"c":5,"v":-0.07},{"t":11,"c":6,"v":-0.5},{"t":11,"c":7,"v":0.12},{"t":11,"c":8,"v":-0.05},{"t":11,"c":9,"v":-0.88},{"t":11,"c":10,"v":-0.05},{"t":11,"c":11,"v":0.32},{"t":11,"c":12,"v":0.04},{"t":11,"c":13,"v":-0.38},{"t":11,"c":14,"v":0.1},{"t":11,"c":15,"v":0.9},{"t":11,"c":16,"v":1.75},{"t":11,"c":17,"v":-0.33},{"t":11,"c":18,"v":1.25},{"t":11,"c":19,"v":0.62},{"t":11,"c":20,"v":0.62},{"t":11,"c":21,"v":1.25},{"t":11,"c":22,"v":-0.32},
{"t":10,"c":0,"v":0.87},{"t":10,"c":1,"v":0.65},{"t":10,"c":2,"v":0.95},{"t":10,"c":3,"v":0.75},{"t":10,"c":4,"v":0.42},{"t":10,"c":5,"v":0.37},{"t":10,"c":6,"v":0.43},{"t":10,"c":7,"v":-0.13},{"t":10,"c":8,"v":0},{"t":10,"c":9,"v":0.1},{"t":10,"c":10,"v":0.68},{"t":10,"c":11,"v":0.38},{"t":10,"c":12,"v":0.73},{"t":10,"c":13,"v":1.35},{"t":10,"c":14,"v":0.1},{"t":10,"c":15,"v":0.9},{"t":10,"c":16,"v":0.82},{"t":10,"c":17,"v":1.45},{"t":10,"c":18,"v":0.68},{"t":10,"c":19,"v":0.62},{"t":10,"c":20,"v":-0.97},{"t":10,"c":21,"v":1.85},{"t":10,"c":22,"v":-0.32},
{"t":9,"c":0,"v":0.87},{"t":9,"c":1,"v":1.2},{"t":9,"c":2,"v":1.1},{"t":9,"c":3,"v":0.87},{"t":9,"c":4,"v":0.82},{"t":9,"c":5,"v":0.42},{"t":9,"c":6,"v":1},{"t":9,"c":7,"v":0.68},{"t":9,"c":8,"v":0.9},{"t":9,"c":9,"v":1.15},{"t":9,"c":10,"v":0.48},{"t":9,"c":11,"v":1.05},{"t":9,"c":12,"v":0.9},{"t":9,"c":13,"v":0.62},{"t":9,"c":14,"v":1.55},{"t":9,"c":15,"v":1.75},{"t":9,"c":16,"v":1.1},{"t":9,"c":17,"v":1.85},{"t":9,"c":18,"v":1.5},{"t":9,"c":19,"v":-0.23},{"t":9,"c":20,"v":0.05},{"t":9,"c":21,"v":1.25},{"t":9,"c":22,"v":-0.32},
{"t":8,"c":0,"v":1.9},{"t":8,"c":1,"v":1.27},{"t":8,"c":2,"v":1.65},{"t":8,"c":3,"v":1.45},{"t":8,"c":4,"v":1},{"t":8,"c":5,"v":1.35},{"t":8,"c":6,"v":1.25},{"t":8,"c":7,"v":1.1},{"t":8,"c":8,"v":1.05},{"t":8,"c":9,"v":0.87},{"t":8,"c":10,"v":1.65},{"t":8,"c":11,"v":1.35},{"t":8,"c":12,"v":1.1},{"t":8,"c":13,"v":1.7},{"t":8,"c":14,"v":1.55},{"t":8,"c":15,"v":1.9},{"t":8,"c":16,"v":1.25},{"t":8,"c":17,"v":1.5},{"t":8,"c":18,"v":1.9},{"t":8,"c":19,"v":0.65},{"t":8,"c":20,"v":1.05},{"t":8,"c":21,"v":-0.07},{"t":8,"c":22,"v":-0.32},
{"t":7,"c":0,"v":1.2},{"t":7,"c":1,"v":1.27},{"t":7,"c":2,"v":1.35},{"t":7,"c":3,"v":1.45},{"t":7,"c":4,"v":1.55},{"t":7,"c":5,"v":1.35},{"t":7,"c":6,"v":1.75},{"t":7,"c":7,"v":1.35},{"t":7,"c":8,"v":1.4},{"t":7,"c":9,"v":1.45},{"t":7,"c":10,"v":1.65},{"t":7,"c":11,"v":1.55},{"t":7,"c":12,"v":1.85},{"t":7,"c":13,"v":1.27},{"t":7,"c":14,"v":1.85},{"t":7,"c":15,"v":0.95},{"t":7,"c":16,"v":1.05},{"t":7,"c":17,"v":1.85},{"t":7,"c":18,"v":0.87},{"t":7,"c":19,"v":1.85},{"t":7,"c":20,"v":-0.45},{"t":7,"c":21,"v":-0.78},{"t":7,"c":22,"v":-0.32},
{"t":6,"c":0,"v":1.1},{"t":6,"c":1,"v":1.55},{"t":6,"c":2,"v":1.55},{"t":6,"c":3,"v":1.9},{"t":6,"c":4,"v":1.5},{"t":6,"c":5,"v":1.75},{"t":6,"c":6,"v":1.35},{"t":6,"c":7,"v":1.65},{"t":6,"c":8,"v":1.85},{"t":6,"c":9,"v":1.9},{"t":6,"c":10,"v":1.3},{"t":6,"c":11,"v":1.9},{"t":6,"c":12,"v":1.9},{"t":6,"c":13,"v":1.9},{"t":6,"c":14,"v":1.35},{"t":6,"c":15,"v":1.27},{"t":6,"c":16,"v":1.27},{"t":6,"c":17,"v":0.5},{"t":6,"c":18,"v":0.42},{"t":6,"c":19,"v":1},{"t":6,"c":20,"v":-0.97},{"t":6,"c":21,"v":-0.78},{"t":6,"c":22,"v":-0.32},
{"t":5,"c":0,"v":1.15},{"t":5,"c":1,"v":1.15},{"t":5,"c":2,"v":1.35},{"t":5,"c":3,"v":1.45},{"t":5,"c":4,"v":1.55},{"t":5,"c":5,"v":1.9},{"t":5,"c":6,"v":1.65},{"t":5,"c":7,"v":1.9},{"t":5,"c":8,"v":1.55},{"t":5,"c":9,"v":1.9},{"t":5,"c":10,"v":1.9},{"t":5,"c":11,"v":1.9},{"t":5,"c":12,"v":1.8},{"t":5,"c":13,"v":1.9},{"t":5,"c":14,"v":1.1},{"t":5,"c":15,"v":0.78},{"t":5,"c":16,"v":-0.45},{"t":5,"c":17,"v":-0.72},{"t":5,"c":18,"v":-0.03},{"t":5,"c":19,"v":-0.22},{"t":5,"c":20,"v":-0.43},{"t":5,"c":21,"v":-0.78},{"t":5,"c":22,"v":-0.32},
{"t":4,"c":0,"v":1.2},{"t":4,"c":1,"v":0.97},{"t":4,"c":2,"v":0.62},{"t":4,"c":3,"v":1},{"t":4,"c":4,"v":1.9},{"t":4,"c":5,"v":1.4},{"t":4,"c":6,"v":1.27},{"t":4,"c":7,"v":1.1},{"t":4,"c":8,"v":1.7},{"t":4,"c":9,"v":1.15},{"t":4,"c":10,"v":1.35},{"t":4,"c":11,"v":0.87},{"t":4,"c":12,"v":0.68},{"t":4,"c":13,"v":-0.07},{"t":4,"c":14,"v":-0.47},{"t":4,"c":15,"v":-0.75},{"t":4,"c":16,"v":-0.55},{"t":4,"c":17,"v":-1.2},{"t":4,"c":18,"v":-0.03},{"t":4,"c":19,"v":-1.45},{"t":4,"c":20,"v":-0.43},{"t":4,"c":21,"v":-0.78},{"t":4,"c":22,"v":-0.32},
{"t":3,"c":0,"v":0.2},{"t":3,"c":1,"v":0.85},{"t":3,"c":2,"v":0.37},{"t":3,"c":3,"v":0.05},{"t":3,"c":4,"v":0.37},{"t":3,"c":5,"v":0.4},{"t":3,"c":6,"v":0.36},{"t":3,"c":7,"v":0.88},{"t":3,"c":8,"v":0.32},{"t":3,"c":9,"v":0.37},{"t":3,"c":10,"v":-0.72},{"t":3,"c":11,"v":-0.32},{"t":3,"c":12,"v":-0.97},{"t":3,"c":13,"v":-0.75},{"t":3,"c":14,"v":-1.35},{"t":3,"c":15,"v":-0.88},{"t":3,"c":16,"v":-0.92},{"t":3,"c":17,"v":-1.3},{"t":3,"c":18,"v":-1.4},{"t":3,"c":19,"v":0.2},{"t":3,"c":20,"v":-0.43},{"t":3,"c":21,"v":-0.78},{"t":3,"c":22,"v":-0.32},
{"t":2,"c":0,"v":-0.88},{"t":2,"c":1,"v":-0.65},{"t":2,"c":2,"v":-0.97},{"t":2,"c":3,"v":-0.13},{"t":2,"c":4,"v":-0.43},{"t":2,"c":5,"v":-0.68},{"t":2,"c":6,"v":-0.62},{"t":2,"c":7,"v":-0.92},{"t":2,"c":8,"v":-1.2},{"t":2,"c":9,"v":-0.6},{"t":2,"c":10,"v":-0.62},{"t":2,"c":11,"v":-1.15},{"t":2,"c":12,"v":-0.6},{"t":2,"c":13,"v":-0.75},{"t":2,"c":14,"v":-1.1},{"t":2,"c":15,"v":-0.72},{"t":2,"c":16,"v":-1.6},{"t":2,"c":17,"v":-0.97},{"t":2,"c":18,"v":-1.4},{"t":2,"c":19,"v":-0.65},{"t":2,"c":20,"v":-0.43},{"t":2,"c":21,"v":-0.78},{"t":2,"c":22,"v":-0.32},
{"t":1,"c":0,"v":-0.38},{"t":1,"c":1,"v":-1.22},{"t":1,"c":2,"v":-1.08},{"t":1,"c":3,"v":-0.85},{"t":1,"c":4,"v":-0.85},{"t":1,"c":5,"v":-1.15},{"t":1,"c":6,"v":-1.05},{"t":1,"c":7,"v":-1.1},{"t":1,"c":8,"v":-0.88},{"t":1,"c":9,"v":-1.08},{"t":1,"c":10,"v":-0.75},{"t":1,"c":11,"v":-0.75},{"t":1,"c":12,"v":-0.88},{"t":1,"c":13,"v":-1.08},{"t":1,"c":14,"v":-0.65},{"t":1,"c":15,"v":-1.5},{"t":1,"c":16,"v":-1.08},{"t":1,"c":17,"v":-0.97},{"t":1,"c":18,"v":-1.85},{"t":1,"c":19,"v":0.2},{"t":1,"c":20,"v":-0.43},{"t":1,"c":21,"v":-0.78},{"t":1,"c":22,"v":-0.32},
{"t":0,"c":0,"v":-1.45},{"t":0,"c":1,"v":-1.45},{"t":0,"c":2,"v":-1},{"t":0,"c":3,"v":-1.35},{"t":0,"c":4,"v":-0.55},{"t":0,"c":5,"v":-0.97},{"t":0,"c":6,"v":-1.35},{"t":0,"c":7,"v":-0.88},{"t":0,"c":8,"v":-0.88},{"t":0,"c":9,"v":-0.88},{"t":0,"c":10,"v":-0.92},{"t":0,"c":11,"v":-1},{"t":0,"c":12,"v":-0.65},{"t":0,"c":13,"v":-1.05},{"t":0,"c":14,"v":-0.75},{"t":0,"c":15,"v":-0.6},{"t":0,"c":16,"v":-0.8},{"t":0,"c":17,"v":-0.55},{"t":0,"c":18,"v":-0.97},{"t":0,"c":19,"v":-0.65},{"t":0,"c":20,"v":-0.43},{"t":0,"c":21,"v":-0.78},{"t":0,"c":22,"v":-0.32}]
},
"hconcat":[
{"vconcat":[
{"width":884,"height":354,"title":"MTSat Convective; Tb < 215 K","layer":[
{"data":{"name":"M"},"transform":[{"lookup":"c","from":{"data":{"name":"edges"},"key":"c","fields":["r0","r1"]}},{"lookup":"t","from":{"data":{"name":"hours"},"key":"t","fields":["t1"]}}],"mark":{"type":"rect"},"encoding":{
"x":{"field":"r0","type":"quantitative","scale":{"type":"log","domain":[4.355,250],"round":true,"nice":false},"axis":{"values":[5,10,25,50,100,150,250],"format":"d","tickSize":-7,"labelFontSize":28,"labelPadding":21.5,"labelOffset":{"condition":[{"test":"datum.value==5","value":12},{"test":"datum.value==10","value":10},{"test":"datum.value==25","value":9},{"test":"datum.value==50","value":9},{"test":"datum.value==100","value":5},{"test":"datum.value==150","value":5}],"value":3},"labelFlush":false,"labelOverlap":false,"labelBound":false,"title":"System Radius (km)","titleFontSize":30,"titlePadding":2}},
"x2":{"field":"r1"},
"y":{"field":"t","type":"quantitative","scale":{"domain":[0,24],"round":true,"nice":false,"zero":false},"axis":{"values":[0,5,10,15,20],"tickSize":-18,"labelFontSize":28,"labelPadding":28.5,"labelOffset":{"condition":{"test":"datum.value==0","value":-11},"value":0},"labelFlush":false,"labelOverlap":false,"labelBound":false,"title":"Time (hours UTC)","titleFontSize":30,"titlePadding":19.5}},
"y2":{"field":"t1"},
"color":{"field":"v","type":"quantitative","legend":null,"scale":{"domain":[-2,-1.5,-1.25,-1,-0.75,-0.5,-0.25,-0.02,0,0.25,0.5,0.75,1,1.5,2],"range":["#000000","#000040","#000078","#0030a8","#0068d8","#0098ff","#60c0ff","#e8f5ff","#ffffff","#ffcc99","#ff8800","#f05000","#c00000","#700000","#2a0000"],"interpolate":"rgb"}}}},
{"data":{"name":"xt"},"mark":{"type":"rule","color":"#333"},"encoding":{"x":{"field":"r","type":"quantitative"},"y":{"field":"a","type":"quantitative"},"y2":{"field":"b"}}},
{"data":{"name":"yt"},"mark":{"type":"rule","color":"#333"},"encoding":{"x":{"field":"a","type":"quantitative"},"x2":{"field":"b"},"y":{"field":"t","type":"quantitative"}}}
]},
{"width":884,"height":354,"title":"WRF Convective; Tb < 215 K","layer":[
{"data":{"name":"W"},"transform":[{"lookup":"c","from":{"data":{"name":"edges"},"key":"c","fields":["r0","r1"]}},{"lookup":"t","from":{"data":{"name":"hours"},"key":"t","fields":["t1"]}}],"mark":{"type":"rect"},"encoding":{
"x":{"field":"r0","type":"quantitative","scale":{"type":"log","domain":[4.355,250],"round":true,"nice":false},"axis":{"values":[5,10,25,50,100,150,250],"format":"d","tickSize":-7,"labelFontSize":28,"labelPadding":21.5,"labelOffset":{"condition":[{"test":"datum.value==5","value":12},{"test":"datum.value==10","value":10},{"test":"datum.value==25","value":9},{"test":"datum.value==50","value":9},{"test":"datum.value==100","value":5},{"test":"datum.value==150","value":5}],"value":3},"labelFlush":false,"labelOverlap":false,"labelBound":false,"title":"System Radius (km)","titleFontSize":30,"titlePadding":2}},
"x2":{"field":"r1"},
"y":{"field":"t","type":"quantitative","scale":{"domain":[0,24],"round":true,"nice":false,"zero":false},"axis":{"values":[0,5,10,15,20],"tickSize":-18,"labelFontSize":28,"labelPadding":28.5,"labelOffset":{"condition":{"test":"datum.value==0","value":-11},"value":0},"labelFlush":false,"labelOverlap":false,"labelBound":false,"title":"Time (hours UTC)","titleFontSize":30,"titlePadding":19.5}},
"y2":{"field":"t1"},
"color":{"field":"v","type":"quantitative","legend":null,"scale":{"domain":[-2,-1.5,-1.25,-1,-0.75,-0.5,-0.25,-0.02,0,0.25,0.5,0.75,1,1.5,2],"range":["#000000","#000040","#000078","#0030a8","#0068d8","#0098ff","#60c0ff","#e8f5ff","#ffffff","#ffcc99","#ff8800","#f05000","#c00000","#700000","#2a0000"],"interpolate":"rgb"}}}},
{"data":{"name":"xt"},"mark":{"type":"rule","color":"#333"},"encoding":{"x":{"field":"r","type":"quantitative"},"y":{"field":"a","type":"quantitative"},"y2":{"field":"b"}}},
{"data":{"name":"yt"},"mark":{"type":"rule","color":"#333"},"encoding":{"x":{"field":"a","type":"quantitative"},"x2":{"field":"b"},"y":{"field":"t","type":"quantitative"}}}
]}
],"spacing":150,"bounds":"flush"},
{"hconcat":[
{"width":81,"height":858,"layer":[
{"data":{"name":"bar"},"mark":{"type":"rect"},"encoding":{
"y":{"field":"v","type":"quantitative","scale":{"domain":[-2,2],"nice":false,"zero":false,"round":true},"axis":{"values":[-2,-1.75,-1.5,-1.25,-1,-0.75,-0.5,-0.25,0,0.25,0.5,0.75,1,1.25,1.5,1.75,2],"format":".1f","labelExpr":"datum.value*2%1==0?replace(datum.label,'−','-'):''","tickSize":{"condition":{"test":"datum.value*2%1==0","value":-16},"value":-9},"labelFontSize":30,"labelPadding":23,"labelOffset":{"condition":[{"test":"datum.value==2","value":9},{"test":"datum.value==-2","value":-11}],"value":0},"labelFlush":false,"labelOverlap":false,"labelBound":false,"title":null}},
"y2":{"field":"w"},
"color":{"field":"v","type":"quantitative","legend":null,"scale":{"domain":[-2,-1.5,-1.25,-1,-0.75,-0.5,-0.25,-0.02,0,0.25,0.5,0.75,1,1.5,2],"range":["#000000","#000040","#000078","#0030a8","#0068d8","#0098ff","#60c0ff","#e8f5ff","#ffffff","#ffcc99","#ff8800","#f05000","#c00000","#700000","#2a0000"],"interpolate":"rgb"}}}},
{"data":{"name":"bt"},"mark":{"type":"rule","color":"#333"},"encoding":{"x":{"field":"a","type":"quantitative","scale":{"domain":[0,1],"nice":false,"zero":false},"axis":null},"x2":{"field":"b"},"y":{"field":"v","type":"quantitative"}}},
{"data":{"name":"bl"},"mark":{"type":"text","angle":90,"align":"center","baseline":"middle","fontSize":30.4,"font":"Liberation Sans","color":"#222"},"encoding":{"x":{"field":"p","type":"quantitative","axis":null},"y":{"field":"v","type":"quantitative"},"text":{"field":"l"}}}
]},
{"width":530,"height":858,"view":{"fill":null,"stroke":null},"data":{"name":"notes"},"mark":{"type":"text","align":"left","baseline":"middle","fontSize":48,"font":"Liberation Sans","color":"#111111"},"encoding":{"x":{"datum":0,"type":"quantitative","scale":{"domain":[0,1]},"axis":null},"y":{"field":"s","type":"quantitative","scale":{"domain":[-0.105,14.8],"reverse":true,"nice":false,"zero":false},"axis":null},"text":{"field":"l"}}}
],"spacing":100,"bounds":"flush"}
],"spacing":1041,"bounds":"flush"}
